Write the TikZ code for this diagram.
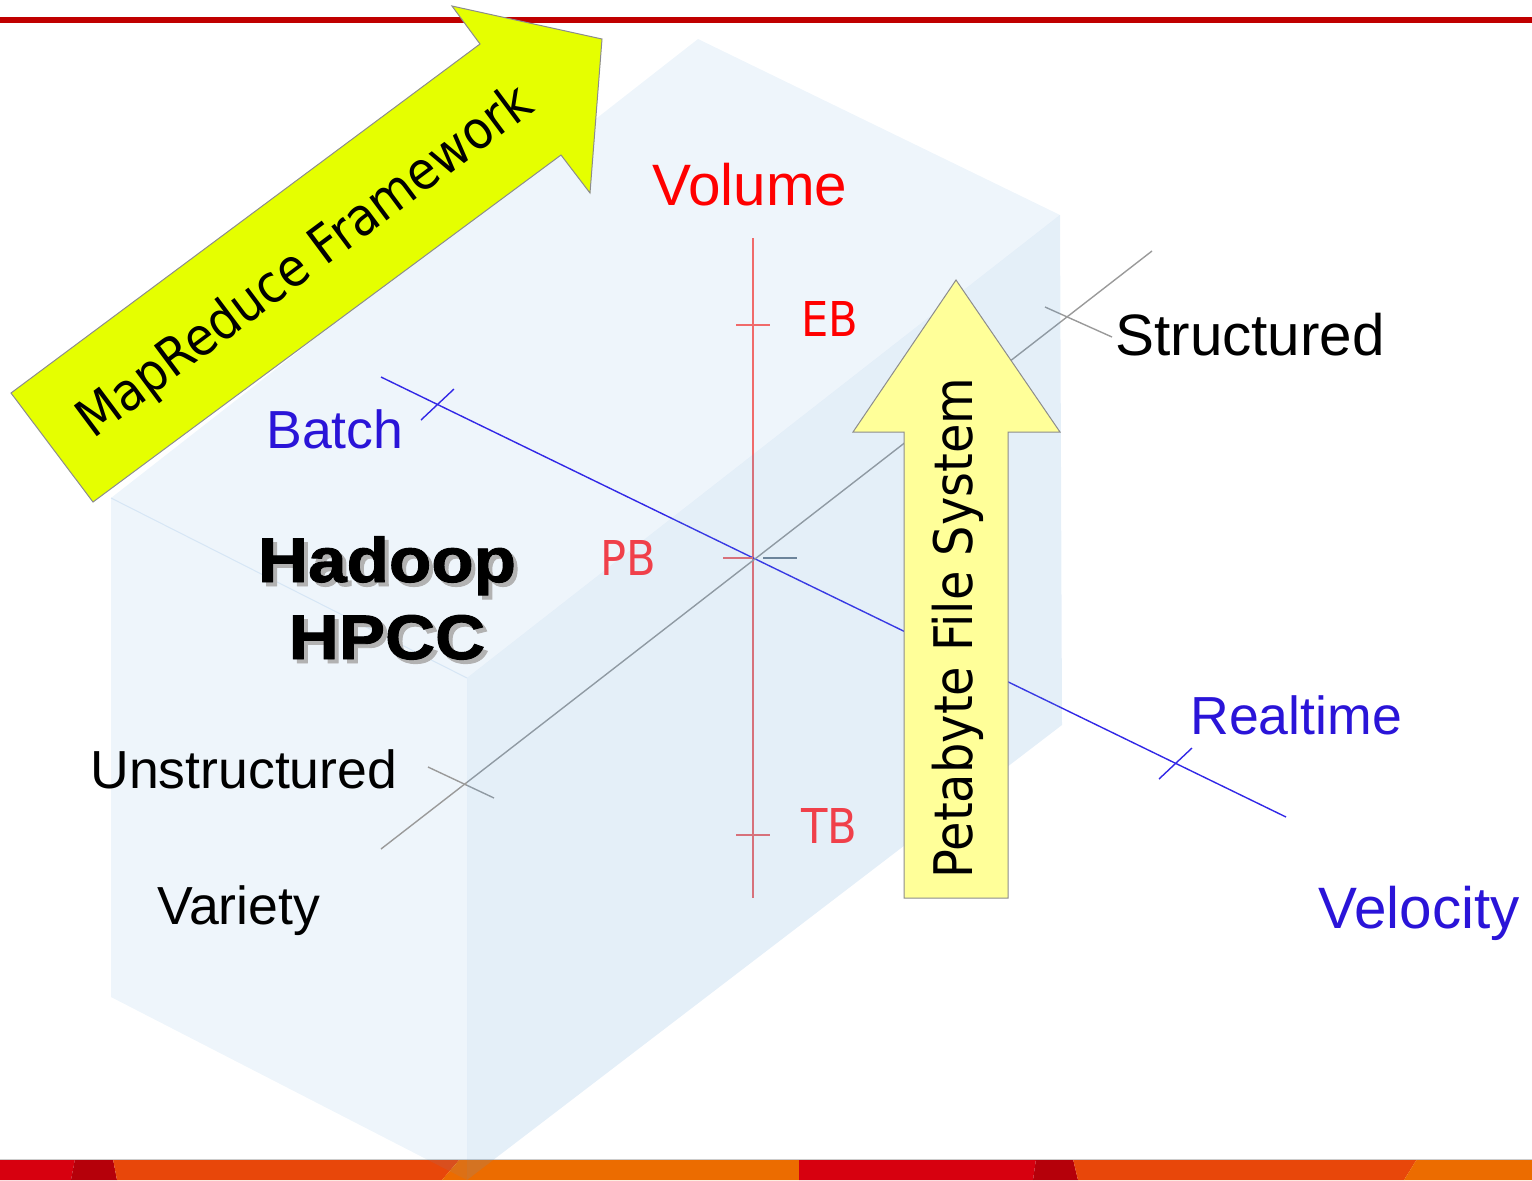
\documentclass[tikz,border=0pt]{standalone}
\usepackage{fontspec}
\setmainfont{Liberation Sans}
\newfontfamily\tahomafont[FakeStretch=0.9]{DejaVu Sans}
\newfontfamily\blackfont[UprightFont={* Bold},FakeBold=1.5,FakeStretch=1.1]{Liberation Sans}
\usepackage{xcolor}
\definecolor{topred}{HTML}{C00000}
\definecolor{barred}{HTML}{D7000F}
\definecolor{bardark}{HTML}{B5000A}
\definecolor{barorred}{HTML}{E8470A}
\definecolor{barorange}{HTML}{EC6C00}
\definecolor{boxblue}{HTML}{5A9BD5}
\definecolor{mrgreen}{HTML}{E5FF00}
\definecolor{pfsyellow}{HTML}{FFFF99}
\definecolor{volred}{HTML}{FF0000}
\definecolor{volpale}{HTML}{F0404A}
\definecolor{velblue}{HTML}{2A14D8}
\definecolor{axisred}{HTML}{F06A6A}
\definecolor{axisblue}{HTML}{3228E6}
\definecolor{axisgray}{HTML}{9A9A9A}
\definecolor{tickgray}{HTML}{708090}
\newcommand{\vol}[1]{\textcolor{volred}{#1}}
\newcommand{\vel}[1]{\textcolor{velblue}{#1}}
\newcommand{\fsz}[1]{\fontsize{#1}{#1}\selectfont}
\usepackage{tikz}
\usetikzlibrary{calc}

\begin{document}
\begin{tikzpicture}[x=0.5pt, y=-0.5pt,
    big/.style={inner sep=0pt, font=\fsz{29.2pt}},
    mid/.style={inner sep=0pt, font=\fsz{26.8pt}},
    unit/.style={inner sep=0pt, font=\tahomafont\fsz{24pt}},
    hadoop/.style={inner sep=0pt, font=\blackfont\fsz{31.5pt}, anchor=base},
    axis/.style={line width=0.7pt}] % Big data cube

      \useasboundingbox (0,0) rectangle (1532,1180);

      \newcommand\ox{753}
      \newcommand\oy{558}

      % bottom bar
      \fill [barred] (0,1159) -- (75,1159) -- (71,1180) -- (0,1180) -- cycle;
      \fill [bardark] (75,1159) -- (113,1159) -- (117,1180) -- (71,1180) -- cycle;
      \fill [barorred] (113,1159) -- (460,1159) -- (442,1180) -- (117,1180) -- cycle;
      \fill [barorange] (460,1159) -- (799,1159) -- (799,1180) -- (442,1180) -- cycle;
      \fill [barred] (799,1159) -- (1036,1159) -- (1033,1180) -- (799,1180) -- cycle;
      \fill [bardark] (1036,1159) -- (1073,1159) -- (1078,1180) -- (1033,1180) -- cycle;
      \fill [barorred] (1073,1159) -- (1417,1159) -- (1404,1180) -- (1078,1180) -- cycle;
      \fill [barorange] (1417,1159) -- (1532,1159) -- (1532,1180) -- (1404,1180) -- cycle;
      \draw [black!20, line width=0.5pt] (0,1159) -- (1532,1159);

      \draw [topred, line width=2.6pt] (0,20) -- (1532,20);

      % cube, top and left faces
      \fill [boxblue, fill opacity=0.1]
      (111,498) -- (698,39) -- (1060,215) -- (467,678) -- cycle;
      \fill [boxblue, fill opacity=0.1]
      (111,498) -- (467,678) -- (467,1180) -- (111,997) -- cycle;
      \draw [boxblue!25, line width=0.5pt] (111,498) -- (467,678);

      % axes
      \coordinate (O) at (\ox, \oy);
      \coordinate (vol top) at (\ox, 238);
      \coordinate (vol bottom) at (\ox, 898);
      \coordinate (batch end) at (381, 377);
      \coordinate (realtime end) at (1286, 817);
      \coordinate (unstr end) at (381, 849);
      \coordinate (str end) at (1152, 251);

      \draw [axis, axisred] (vol top) -- (vol bottom);
      \draw [axis, axisblue] (batch end) -- (realtime end);
      \draw [axis, axisgray] (unstr end) -- (str end);

      \draw [axis, axisred] (736, 325) -- (770, 325);
      \draw [axis, axisred] (736, 835) -- (770, 835);
      \draw [axis, axisred] (723, \oy) -- (O);
      \draw [tickgray, line width=1pt] (763, \oy) -- (797, \oy);
      \draw [axis, axisblue] (421, 420) -- (454, 389);
      \draw [axis, axisblue] (1159, 779) -- (1192, 748);
      \draw [axis, axisgray] (428, 767) -- (494, 798);
      \draw [axis, axisgray] (1045, 307) -- (1112, 337);

      % cube, right face
      \fill [boxblue, fill opacity=0.16]
      (467,678) -- (1060,215) -- (1062,725) -- (467,1180) -- cycle;

      \node [big, anchor=base] (volume) at (750, 205) {\vol{Volume}};
      \node [unit, anchor=base west] (eb) at (801, 336) {\vol{EB}};
      \node [unit, anchor=base west, volpale] (pb) at (600, 575) {PB};
      \node [unit, anchor=base west, volpale] (tb) at (801, 843) {TB};

      \node [mid, anchor=base west] (batch) at (266, 448) {\vel{Batch}};
      \node [mid, anchor=base west] (realtime) at (1190, 734) {\vel{Realtime}};
      \node [big, anchor=base west] (velocity) at (1318, 928) {\vel{Velocity}};

      \node [big, anchor=base west] (structured) at (1115, 355) {Structured};
      \node [mid, anchor=base west] (unstructured) at (90, 788) {Unstructured};
      \node [mid, anchor=base west] (variety) at (157, 924) {Variety};

      \node [hadoop, black!30] (hadoop shadow) at (391, 586) {Hadoop};
      \node [hadoop] (hadoop) at (387, 582) {Hadoop};
      \node [hadoop, black!30] (hpcc shadow) at (391, 663) {HPCC};
      \node [hadoop] (hpcc) at (387, 659) {HPCC};

      % arrows
      \filldraw [fill=mrgreen, draw=black!45, line width=0.5pt]
      (11,393) -- (480,44) -- (452,6) -- (602,39) -- (590,193)
      -- (561,155) -- (93,502) -- cycle;
      \node [font=\tahomafont\fsz{26.3pt}, rotate=36.7, inner sep=0pt]
      (mapreduce) at (306, 263) {MapReduce Framework};

      \filldraw [fill=pfsyellow, draw=black!45, line width=0.5pt]
      (956,280) -- (1060,432) -- (1008,432) -- (1008,898)
      -- (904,898) -- (904,432) -- (853,432) -- cycle;
      \node [font=\tahomafont\fsz{26.6pt}, rotate=90, inner sep=0pt]
      (pfs) at (958, 628) {Petabyte File System};

\end{tikzpicture}
\end{document}
